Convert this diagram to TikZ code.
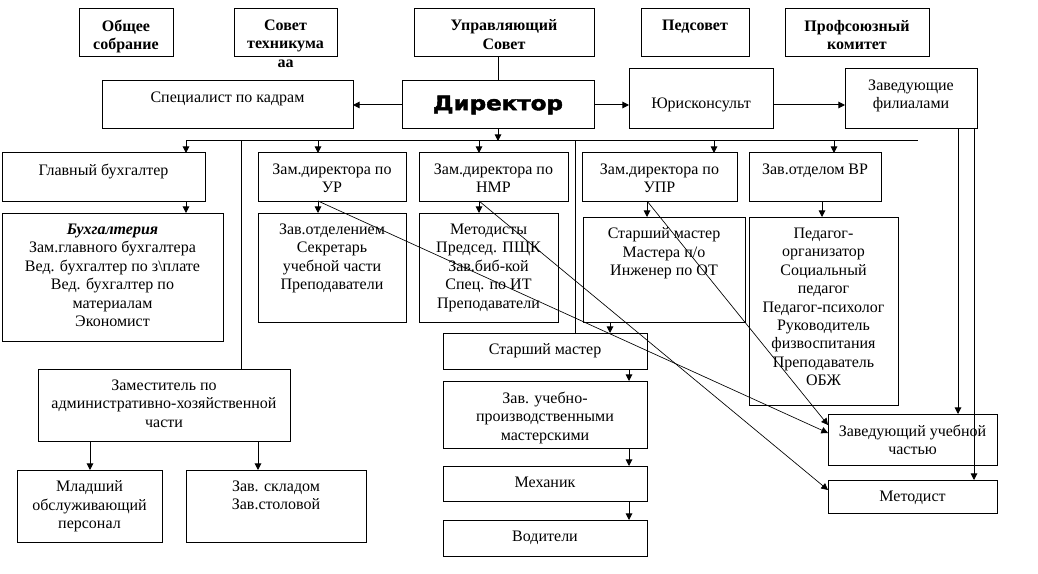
\documentclass[tikz,border=0pt]{standalone}
\usepackage{fontspec}
\setmainfont{Liberation Serif}
\newfontfamily\blackfont{DejaVu Sans}[BoldFeatures={FakeBold=2}]
\usepackage{graphicx}
\usetikzlibrary{arrows.meta}
\usetikzlibrary{calc}
\usetikzlibrary{positioning}
\tikzset{box/.style={draw,line width=.75pt,inner sep=0pt,outer sep=0pt},
  txt/.style={align=center,inner sep=0pt,font=\fontsize{12}{13.8}\selectfont},
  head/.style={font=\fontsize{12}{13.8}\selectfont\bfseries},
  line/.style={line width=.75pt},
  link/.style={line width=.75pt,-{Triangle[length=5pt,width=5pt]}},
  cross/.style={line width=.5pt,-{Triangle[length=5pt,width=5pt]}}}
% box from corners (x1,y1) (x2,y2) in pixels, text at the top
\newcommand{\orgbox}[7][]{%
  \node[box,minimum width={(#5-#3)*0.75pt},minimum height={(#6-#4)*0.75pt}] (#2) at ({(#3+#5)/2},{(#4+#6)/2}) {};
  \node[txt,#1,below=8pt of #2.north] (#2t) {#7};}

\begin{document}
\begin{tikzpicture}[x=.75pt,y=-.75pt]
\useasboundingbox (0,0) rectangle (1038,574);
% top row
\orgbox[head]{obsh}{79}{9}{173}{57}{Общее\\собрание}
\orgbox[head]{sovt}{234}{9}{337}{57}{Совет\\техникума\\аа}
\orgbox[head]{upr}{414}{9}{594}{57}{Управляющий\\Совет}
\orgbox[head]{peds}{641}{9}{749}{57}{Педсовет}
\orgbox[head]{prof}{785}{9}{929}{57}{Профсоюзный\\комитет}
% director row
\node[box,minimum width=144pt,minimum height=36pt] (dir) at (498,105)
  {\blackfont\bfseries\fontsize{15}{18}\selectfont\scalebox{1.15}[1]{Директор}};
\orgbox{kadr}{102}{81}{353}{129}{Специалист по кадрам}
\orgbox[yshift=-13.5pt]{yur}{629}{69}{773}{129}{Юрисконсульт}
\orgbox{fil}{845}{69}{977}{129}{Заведующие\\филиалами}
% deputies
\orgbox{glbuh}{2}{153}{205}{201}{Главный бухгалтер}
\orgbox{zur}{258}{153}{406}{201}{Зам.директора по\\УР}
\orgbox{znmr}{419}{153}{568}{201}{Зам.директора  по\\НМР}
\orgbox{zupr}{582}{153}{737}{201}{Зам.директора по\\УПР}
\orgbox{zvr}{749}{153}{881}{201}{Зав.отделом ВР}
% staff
\orgbox{buh}{2}{213}{223}{341}{\textbf{\textit{Бухгалтерия}}\\Зам.главного бухгалтера\\Вед. бухгалтер по з\textbackslash плате\\Вед. бухгалтер по\\материалам\\Экономист}
\orgbox{zotd}{258}{213}{406}{322}{Зав.отделением\\Секретарь\\учебной части\\Преподаватели}
\orgbox{met}{419}{213}{558}{322}{Методисты\\Председ. ПЩК\\Зав.биб-кой\\Спец. по ИТ\\Преподаватели}
\orgbox{stm}{583}{217}{745}{322}{Старший мастер\\Мастера п/о\\Инженер по ОТ}
\orgbox{ped}{749}{217}{898}{405}{Педагог-\\организатор\\Социальный\\педагог\\Педагог-психолог\\Руководитель\\физвоспитания\\Преподаватель\\ОБЖ}
% lower left
\orgbox{zaxch}{38}{369}{290}{441}{Заместитель по\\административно-хозяйственной\\части}
\orgbox{mlad}{17}{470}{162}{542}{Младший\\обслуживающий\\персонал}
\orgbox{sklad}{186}{470}{366}{542}{Зав. складом\\Зав.столовой}
% lower middle
\orgbox{stm2}{443}{333}{647}{369}{Старший мастер}
\orgbox{zuch}{443}{381}{647}{448}{Зав. учебно-\\производственными\\мастерскими}
\orgbox{mech}{443}{466}{647}{501}{Механик}
\orgbox{vod}{443}{520}{647}{556}{Водители}
% lower right
\orgbox{zavuch}{828}{414}{997}{465}{Заведующий учебной\\частью}
\orgbox{metod}{828}{480}{997}{513}{Методист}

% links of the director
\draw[line] (upr.south -| dir) -- (dir.north);
\draw[link] (dir.west) -- (kadr.east);
\draw[link] (dir.east) -- (dir.east -| yur.west);
\draw[link] (dir.east -| yur.east) -- (dir.east -| fil.west);
\coordinate (busL) at (186,141);
\coordinate (busR) at (918,141);
\draw[link] (dir.south) -- (dir.south |- busL);
\draw[line] (busL) -- (busR);
\foreach \d/\b in {186/glbuh,318/zur,479/znmr,714/zupr,834/zvr} {
  \coordinate (p) at (\d,0);
  \draw[link] (p |- busL) -- (p |- \b.north);
}
\foreach \d/\b in {241/zaxch,575/stm2} {
  \coordinate (p) at (\d,0);
  \draw[line] (p |- busL) -- (p |- \b.north);
}
% downwards
\foreach \d/\a/\b in {186/glbuh/buh,318/zur/zotd,479/znmr/met,647/zupr/stm,822/zvr/ped,
    90/zaxch/mlad,258/zaxch/sklad,610/stm/stm2,629/stm2/zuch,629/zuch/mech,629/mech/vod,
    958/fil/zavuch,974/fil/metod} {
  \coordinate (p) at (\d,0);
  \draw[link] (p |- \a.south) -- (p |- \b.north);
}
% crossing lines
\coordinate (xur) at (318,0);
\coordinate (xnmr) at (479,0);
\coordinate (xupr) at (647,0);
\draw[cross] (xur |- zur.south) -- ($(zavuch.north west)+(0,19)$);
\draw[cross] (xnmr |- znmr.south) -- ($(metod.north west)+(0,10)$);
\draw[cross] (xupr |- zupr.south) -- ($(zavuch.north west)+(0,11)$);
\end{tikzpicture}
\end{document}
